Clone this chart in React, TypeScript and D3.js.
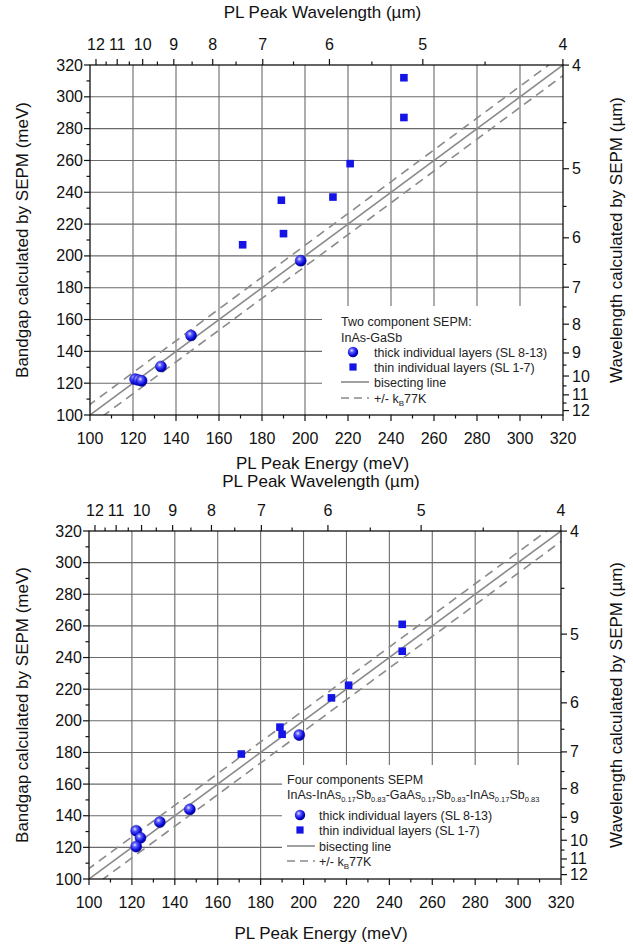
import React from "react";
import * as d3 from "d3";

// ---- data ----
const energyTicks = [100, 120, 140, 160, 180, 200, 220, 240, 260, 280, 300, 320];
const energyMinorTicks = [110, 130, 150, 170, 190, 210, 230, 250, 270, 290, 310];
const wavelengthTicks = [4, 5, 6, 7, 8, 9, 10, 11, 12];
const wavelengthMinorTicks = [4.5, 5.5, 6.5, 7.5, 8.5, 9.5, 10.5, 11.5];
const KB77 = 6.64; // meV
const WL_K = 1303; // axis conversion constant used by the figure
const WL_C = 5.8;

const topThickX = [121, 122.5, 124, 133, 147, 198];
const topThickY = [122.5, 122, 121.5, 130.5, 150, 197];
const topThinX = [171, 189, 190, 213, 221, 246, 246];
const topThinY = [207, 235, 214, 237, 258, 312, 287];

const botThickX = [122, 124, 122, 133, 147, 198];
const botThickY = [130.5, 126, 120.5, 136, 144, 191];
const botThinX = [171, 189, 190, 213, 221, 246, 246];
const botThinY = [179, 196, 191.5, 214.5, 222.5, 261, 244];

const FONT = "'Liberation Sans', Arial, Helvetica, sans-serif";
const GRID = "#6a6a6a";
const LINEC = "#8a8a8a";
const BLUE = "#1414e6";

const wlToE = (l: number) => WL_K / l - WL_C;

type PanelProps = {
  id: string;
  x0: number; x1: number; yTop: number; yBot: number;
  thickX: number[]; thickY: number[]; thinX: number[]; thinY: number[];
  energyTitleY: number;
  wlTitleY: number;
  legend: { bx: number; by: number; sx: number; tx: number; lx0: number; lx1: number; titleY: number[]; rowY: number[]; title2: React.ReactNode; title1: string };
};

function Panel(p: PanelProps) {
  const x = d3.scaleLinear().domain([100, 320]).range([p.x0, p.x1]);
  const y = d3.scaleLinear().domain([100, 320]).range([p.yBot, p.yTop]);
  const cx = (p.x0 + p.x1) / 2;
  const cy = (p.yTop + p.yBot) / 2;
  const line = d3.line<[number, number]>().x((d) => x(d[0])).y((d) => y(d[1]));
  const L = (a: [number, number][]) => line(a) || "";
  const clipId = `clip-${p.id}`;
  const lg = p.legend;
  return (
    <g fontFamily={FONT}>
      <defs>
        <clipPath id={clipId}>
          <rect x={p.x0} y={p.yTop} width={p.x1 - p.x0} height={p.yBot - p.yTop} />
        </clipPath>
      </defs>
      <rect x={p.x0} y={p.yTop} width={p.x1 - p.x0} height={p.yBot - p.yTop} fill="#fff" />
      {/* grid */}
      {energyTicks.slice(1, -1).map((t) => (
        <line key={"gv" + t} x1={x(t)} x2={x(t)} y1={p.yTop} y2={p.yBot} stroke={GRID} strokeWidth={1.1} />
      ))}
      {energyTicks.slice(1, -1).map((t) => (
        <line key={"gh" + t} x1={p.x0} x2={p.x1} y1={y(t)} y2={y(t)} stroke={GRID} strokeWidth={1.1} />
      ))}
      {/* lines */}
      <g clipPath={`url(#${clipId})`}>
        <path d={L([[100, 100], [320, 320]])} stroke={LINEC} strokeWidth={1.6} fill="none" />
        <path d={L([[100 - KB77, 100], [320 - KB77, 320]])} stroke={LINEC} strokeWidth={1.6} fill="none" strokeDasharray="9,6" />
        <path d={L([[100, 100 - KB77], [320, 320 - KB77]])} stroke={LINEC} strokeWidth={1.6} fill="none" strokeDasharray="9,6" />
      </g>
      {/* legend box */}
      <rect x={lg.bx} y={lg.by} width={p.x1 - lg.bx - 0.5} height={p.yBot - lg.by - 0.5} fill="#fff" />
      {/* data */}
      {p.thinX.map((v, i) => (
        <rect key={"s" + i} x={x(v) - 3.8} y={y(p.thinY[i]) - 3.8} width={7.6} height={7.6} fill={BLUE} />
      ))}
      {p.thickX.map((v, i) => (
        <circle key={"c" + i} cx={x(v)} cy={y(p.thickY[i])} r={5.6} fill="url(#sphere)" stroke="#1010a0" strokeWidth={0.4} />
      ))}
      {/* frame */}
      <rect x={p.x0} y={p.yTop} width={p.x1 - p.x0} height={p.yBot - p.yTop} fill="none" stroke="#111" strokeWidth={1.3} />
      {/* bottom axis */}
      {energyTicks.map((t) => (
        <g key={"bt" + t}>
          <line x1={x(t)} x2={x(t)} y1={p.yBot} y2={p.yBot + 6} stroke="#111" strokeWidth={1.2} />
          <text x={x(t)} y={p.yBot + 29} fontSize={16} textAnchor="middle" fill="#111">{t}</text>
        </g>
      ))}
      {energyMinorTicks.map((t) => (
        <line key={"bm" + t} x1={x(t)} x2={x(t)} y1={p.yBot} y2={p.yBot + 3.5} stroke="#111" strokeWidth={1.2} />
      ))}
      {/* left axis */}
      {energyTicks.map((t) => (
        <g key={"lt" + t}>
          <line x1={p.x0 - 6} x2={p.x0} y1={y(t)} y2={y(t)} stroke="#111" strokeWidth={1.2} />
          <text x={p.x0 - 7} y={y(t) + 5.5} fontSize={16} textAnchor="end" fill="#111">{t}</text>
        </g>
      ))}
      {energyMinorTicks.map((t) => (
        <line key={"lm" + t} x1={p.x0 - 3.5} x2={p.x0} y1={y(t)} y2={y(t)} stroke="#111" strokeWidth={1.2} />
      ))}
      {/* top wavelength axis */}
      {wavelengthTicks.map((l) => (
        <g key={"tt" + l}>
          <line x1={x(wlToE(l))} x2={x(wlToE(l))} y1={p.yTop - 6} y2={p.yTop} stroke="#111" strokeWidth={1.2} />
          <text x={x(wlToE(l))} y={p.yTop - 15} fontSize={16} textAnchor="middle" fill="#111">{l}</text>
        </g>
      ))}
      {wavelengthMinorTicks.map((l) => (
        <line key={"tm" + l} x1={x(wlToE(l))} x2={x(wlToE(l))} y1={p.yTop - 3.5} y2={p.yTop} stroke="#111" strokeWidth={1.2} />
      ))}
      {/* right wavelength axis */}
      {wavelengthTicks.map((l) => (
        <g key={"rt" + l}>
          <line x1={p.x1} x2={p.x1 + 6} y1={y(wlToE(l))} y2={y(wlToE(l))} stroke="#111" strokeWidth={1.2} />
          <text x={p.x1 + 9} y={y(wlToE(l)) + 5.5} fontSize={16} textAnchor="start" fill="#111">{l}</text>
        </g>
      ))}
      {wavelengthMinorTicks.map((l) => (
        <line key={"rm" + l} x1={p.x1} x2={p.x1 + 3.5} y1={y(wlToE(l))} y2={y(wlToE(l))} stroke="#111" strokeWidth={1.2} />
      ))}
      {/* titles */}
      <text x={cx - 4} y={p.wlTitleY} fontSize={17} textAnchor="middle" fill="#111">PL Peak Wavelength  (µm)</text>
      <text x={cx - 4} y={p.energyTitleY} fontSize={17} textAnchor="middle" fill="#111">PL Peak Energy (meV)</text>
      <text transform={`translate(${28},${cy}) rotate(-90)`} fontSize={17} textAnchor="middle" fill="#111">Bandgap calculated  by SEPM (meV)</text>
      <text transform={`translate(${622},${cy}) rotate(-90)`} fontSize={17} textAnchor="middle" fill="#111">Wavelength calculated by SEPM (µm)</text>
      {/* legend */}
      <g fontSize={12.5} fill="#222">
        <text x={lg.lx0} y={lg.titleY[0]}>{lg.title1}</text>
        <text x={lg.lx0} y={lg.titleY[1]}>{lg.title2}</text>
        <circle cx={lg.sx} cy={lg.rowY[0]} r={5.2} fill="url(#sphere)" />
        <text x={lg.tx} y={lg.rowY[0] + 4.5}>thick individual layers (SL 8-13)</text>
        <rect x={lg.sx - 3.6} y={lg.rowY[1] - 3.6} width={7.2} height={7.2} fill={BLUE} />
        <text x={lg.tx} y={lg.rowY[1] + 4.5}>thin individual layers (SL 1-7)</text>
        <line x1={lg.lx0} x2={lg.lx1} y1={lg.rowY[2]} y2={lg.rowY[2]} stroke={LINEC} strokeWidth={1.6} />
        <text x={lg.tx} y={lg.rowY[2] + 4.5}>bisecting line</text>
        <line x1={lg.lx0} x2={lg.lx1} y1={lg.rowY[3]} y2={lg.rowY[3]} stroke={LINEC} strokeWidth={1.6} strokeDasharray="8,5" />
        <text x={lg.tx} y={lg.rowY[3] + 4.5}>+/- k<tspan fontSize={8} dy={3}>B</tspan><tspan dy={-3}>77K</tspan></text>
      </g>
    </g>
  );
}

export default function App() {
  const fourTitle = (
    <>
      <tspan>InAs-InAs</tspan><tspan fontSize={7.5} dy={3}>0.17</tspan><tspan dy={-3}>Sb</tspan>
      <tspan fontSize={7.5} dy={3}>0.83</tspan><tspan dy={-3}>-GaAs</tspan>
      <tspan fontSize={7.5} dy={3}>0.17</tspan><tspan dy={-3}>Sb</tspan>
      <tspan fontSize={7.5} dy={3}>0.83</tspan><tspan dy={-3}>-InAs</tspan>
      <tspan fontSize={7.5} dy={3}>0.17</tspan><tspan dy={-3}>Sb</tspan>
      <tspan fontSize={7.5} dy={3}>0.83</tspan>
    </>
  );
  return (
    <svg width={633} height={944} style={{ position: "absolute", left: 0, top: 0, background: "#fff" }}>
      <defs>
        <radialGradient id="sphere" cx="38%" cy="35%" r="65%">
          <stop offset="0%" stopColor="#e8e8ff" />
          <stop offset="30%" stopColor="#5a5aff" />
          <stop offset="75%" stopColor="#0808d8" />
          <stop offset="100%" stopColor="#000090" />
        </radialGradient>
      </defs>
      <rect width={633} height={944} fill="#fff" />
      <Panel
        id="top"
        x0={90} x1={563} yTop={65} yBot={415}
        thickX={topThickX} thickY={topThickY} thinX={topThinX} thinY={topThinY}
        energyTitleY={469} wlTitleY={18}
        legend={{
          bx: 322, by: 306, sx: 353, tx: 374, lx0: 341, lx1: 369,
          titleY: [326, 342], rowY: [352, 367, 382, 398],
          title1: "Two component SEPM:", title2: "InAs-GaSb",
        }}
      />
      <Panel
        id="bot"
        x0={89} x1={561} yTop={531} yBot={879}
        thickX={botThickX} thickY={botThickY} thinX={botThinX} thinY={botThinY}
        energyTitleY={939} wlTitleY={487}
        legend={{
          bx: 282, by: 765, sx: 300, tx: 319, lx0: 287, lx1: 315,
          titleY: [784, 799], rowY: [815, 830, 846, 861],
          title1: "Four components SEPM", title2: fourTitle,
        }}
      />
    </svg>
  );
}
